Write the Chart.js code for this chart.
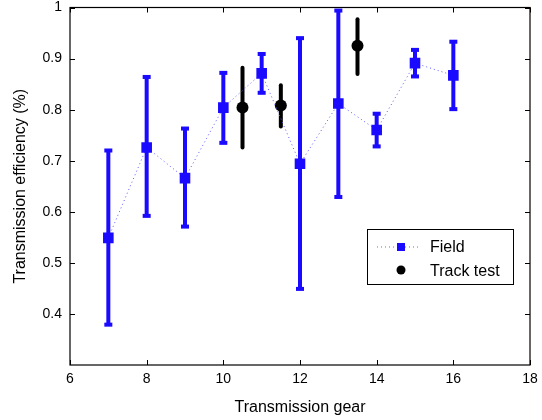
<!DOCTYPE html>
<html>
<head>
<meta charset="utf-8">
<script src="https://cdn.jsdelivr.net/npm/chart.js@4/dist/chart.umd.min.js"></script>
<style>
  html,body{margin:0;padding:0;background:#fff;}
  #wrap{width:542px;height:420px;}
</style>
</head>
<body>
<div id="wrap"><canvas id="grafico" width="542" height="420"></canvas></div>
<script>
/* dados */
const fieldGear = [7, 8, 9, 10, 11, 12, 13, 14, 15, 16];
const fieldEff  = [0.549, 0.726, 0.666, 0.804, 0.871, 0.694, 0.812, 0.760, 0.891, 0.867];
const fieldLow  = [0.379, 0.592, 0.571, 0.735, 0.833, 0.449, 0.629, 0.728, 0.865, 0.801];
const fieldHigh = [0.720, 0.864, 0.763, 0.872, 0.909, 0.940, 0.994, 0.792, 0.917, 0.933];

const trackGear = [10.5, 11.5, 13.5];
const trackEff  = [0.804, 0.808, 0.925];
const trackLow  = [0.726, 0.767, 0.870];
const trackHigh = [0.882, 0.848, 0.977];

const xTicks = [6, 8, 10, 12, 14, 16, 18];
const yTicks = [0.4, 0.5, 0.6, 0.7, 0.8, 0.9, 1];

const azul = "#1a0aff";
const fonte = "'Liberation Sans', Arial, sans-serif";

/* BARRAS DE ERRO + MOLDURA */
const errorBars = {
  id: "errorBars",
  beforeDatasetsDraw(chart){
    const {ctx, scales:{x, y}} = chart;
    ctx.save();
    // field
    ctx.strokeStyle = azul; ctx.lineWidth = 4; ctx.lineCap = "butt";
    fieldGear.forEach((g, i) => {
      const px = x.getPixelForValue(g);
      const lo = y.getPixelForValue(fieldLow[i]);
      const hi = y.getPixelForValue(fieldHigh[i]);
      ctx.beginPath(); ctx.moveTo(px, lo); ctx.lineTo(px, hi); ctx.stroke();
      ctx.fillStyle = azul;
      ctx.fillRect(px - 4, lo - 2, 8, 4);
      ctx.fillRect(px - 4, hi - 2, 8, 4);
    });
    // track
    ctx.strokeStyle = "#000"; ctx.lineWidth = 4; ctx.lineCap = "round";
    trackGear.forEach((g, i) => {
      const px = x.getPixelForValue(g);
      ctx.beginPath();
      ctx.moveTo(px, y.getPixelForValue(trackLow[i]));
      ctx.lineTo(px, y.getPixelForValue(trackHigh[i]));
      ctx.stroke();
    });
    ctx.restore();
  },
  afterDraw(chart){
    const {ctx, chartArea:a, scales:{x, y}} = chart;
    ctx.save();
    ctx.strokeStyle = "#000"; ctx.lineWidth = 1.2;
    ctx.strokeRect(a.left, a.top, a.right - a.left, a.bottom - a.top);
    ctx.lineWidth = 1;
    xTicks.forEach(v => {
      const px = Math.round(x.getPixelForValue(v)) + 0.5;
      ctx.beginPath();
      ctx.moveTo(px, a.bottom); ctx.lineTo(px, a.bottom - 5);
      ctx.moveTo(px, a.top); ctx.lineTo(px, a.top + 5);
      ctx.stroke();
    });
    yTicks.forEach(v => {
      const py = Math.round(y.getPixelForValue(v)) + 0.5;
      ctx.beginPath();
      ctx.moveTo(a.left, py); ctx.lineTo(a.left + 5, py);
      ctx.moveTo(a.right, py); ctx.lineTo(a.right - 5, py);
      ctx.stroke();
    });

    /* LEGENDA */
    const lx = 367, ly = 229, lw = 146, lh = 55;
    ctx.fillStyle = "#fff";
    ctx.fillRect(lx, ly, lw, lh);
    ctx.strokeStyle = "#000"; ctx.lineWidth = 1;
    ctx.strokeRect(lx + 0.5, ly + 0.5, lw, lh);
    ctx.strokeStyle = "#6a6aff"; ctx.setLineDash([1, 3]);
    ctx.beginPath(); ctx.moveTo(377, 247); ctx.lineTo(421, 247); ctx.stroke();
    ctx.setLineDash([]);
    ctx.fillStyle = azul; ctx.fillRect(397, 243, 8, 8);
    ctx.fillStyle = "#000";
    ctx.beginPath(); ctx.arc(401, 270, 4.5, 0, Math.PI * 2); ctx.fill();
    ctx.font = "16px " + fonte;
    ctx.textBaseline = "middle"; ctx.textAlign = "left";
    ctx.fillText("Field", 430, 248);
    ctx.fillText("Track test", 430, 272);
    ctx.restore();
  }
};

/* GRÁFICO */
new Chart(document.getElementById("grafico"), {
  type: "scatter",
  data: {
    datasets: [
      {
        label: "Field",
        data: fieldGear.map((g, i) => ({x: g, y: fieldEff[i]})),
        showLine: true,
        borderColor: "#5a5aff",
        borderWidth: 1,
        borderDash: [1, 3],
        pointStyle: "rect",
        pointRadius: 7.5,
        pointBackgroundColor: azul,
        pointBorderWidth: 0
      },
      {
        label: "Track test",
        data: trackGear.map((g, i) => ({x: g, y: trackEff[i]})),
        showLine: false,
        pointStyle: "circle",
        pointRadius: 6,
        pointBackgroundColor: "#000",
        pointBorderWidth: 0
      }
    ]
  },
  options: {
    responsive: false,
    animation: false,
    layout: {padding: {top: 4, right: 12, left: 0, bottom: 0}},
    plugins: {legend: {display: false}, tooltip: {enabled: false}},
    scales: {
      x: {
        type: "linear", min: 6, max: 18,
        afterBuildTicks: s => { s.ticks = xTicks.map(v => ({value: v})); },
        afterFit: s => { s.height = 55; s.paddingLeft = 0; s.paddingRight = 0; },
        grid: {display: false, drawTicks: false},
        border: {display: false},
        ticks: {color: "#000", font: {family: fonte, size: 14}, padding: 6},
        title: {display: true, text: "Transmission gear", color: "#000",
                font: {family: fonte, size: 16}, padding: {top: 4, bottom: 3}}
      },
      y: {
        min: 0.3, max: 1,
        afterBuildTicks: s => { s.ticks = yTicks.map(v => ({value: v})); },
        afterFit: s => { s.width = 70; s.paddingTop = 0; s.paddingBottom = 0; },
        grid: {display: false, drawTicks: false},
        border: {display: false},
        ticks: {color: "#000", font: {family: fonte, size: 14}, padding: 8,
                callback: v => String(Math.round(v * 10) / 10)},
        title: {display: true, text: "Transmission efficiency (%)", color: "#000",
                font: {family: fonte, size: 16}, padding: {top: 11, bottom: 0}}
      }
    }
  },
  plugins: [errorBars]
});
</script>
</body>
</html>
